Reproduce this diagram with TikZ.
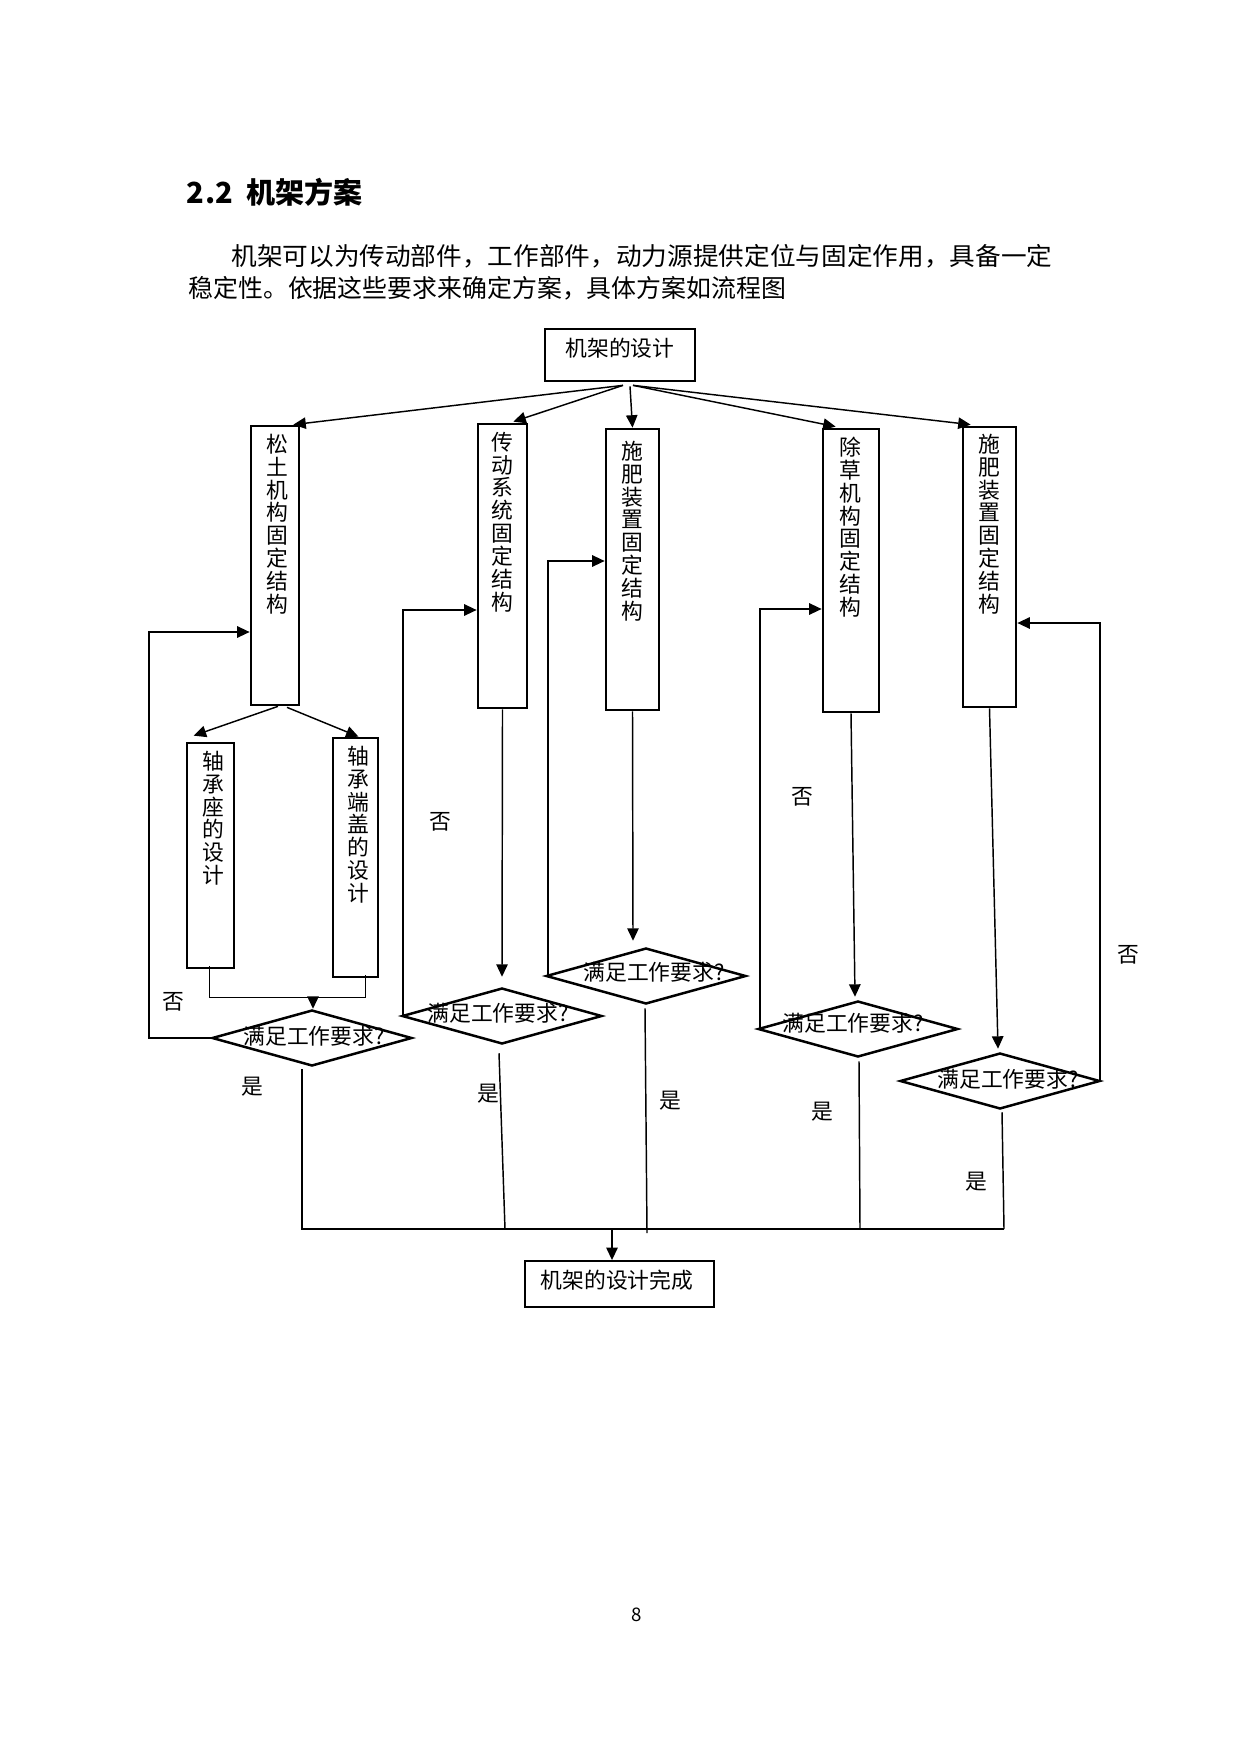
\documentclass[tikz,border=0pt]{standalone}
\usepackage{fontspec}
\setmainfont{Noto Sans CJK SC}
\usetikzlibrary{arrows.meta,shapes.geometric,calc}
\newcommand{\pxu}{0.4818pt}
\begin{document}
\begin{tikzpicture}[x=0.4818pt,y=-0.4818pt,
  boxthick/.style={draw,line width=1.3pt,inner sep=0pt,rectangle},
  endbox/.style={draw,line width=0.9pt,inner sep=0pt,rectangle},
  decide/.style={draw,line width=1.2pt,diamond,inner sep=0pt,minimum width=200*\pxu,minimum height=56*\pxu},
  vtxt/.style={inner sep=0pt,align=center,anchor=north,font=\fontsize{10.5}{11}\selectfont},
  htxt/.style={inner sep=0pt,font=\fontsize{10.5}{11}\selectfont},
  conn/.style={line width=0.7pt},
  arr/.style={line width=0.7pt,-{Triangle[length=6pt,width=5.5pt]}},
  lbl/.style={inner sep=0pt,font=\fontsize{10.5}{11}\selectfont}
]
\useasboundingbox (0,0) rectangle (1240,1754);

% heading and paragraph
\node[anchor=west,inner sep=0pt,font=\bfseries\fontsize{14}{14}\selectfont] (title) at (188,192)
  {\makebox[0.5em]{2}\makebox[0.5em]{.}\makebox[0.5em]{2}\hspace{0.5em}机架方案};
\node[anchor=west,inner sep=0pt,font=\fontsize{12}{15}\selectfont] (p1) at (231,256)
  {\scalebox{1.03}[1]{机架可以为传动部件，工作部件，动力源提供定位与固定作用，具备一定}};
\node[anchor=west,inner sep=0pt,font=\fontsize{12}{15}\selectfont] (p2) at (188,288)
  {稳定性。依据这些要求来确定方案，具体方案如流程图};

% top box
\node[boxthick,minimum width=150*\pxu,minimum height=52*\pxu] (top) at (620,355) {};
\node[htxt] (toptxt) at (620,348) {机架的设计};

% vertical boxes
\node[boxthick,minimum width=48*\pxu,minimum height=279*\pxu] (st) at (275,565.5) {};
\node[vtxt] (sttxt) at ($(st.north)+(2,9)$) {松\\土\\机\\构\\固\\定\\结\\构};
\node[boxthick,minimum width=49*\pxu,minimum height=284*\pxu] (cd) at (502.5,566) {};
\node[vtxt] (cdtxt) at ($(cd.north)+(0,9)$) {传\\动\\系\\统\\固\\定\\结\\构};
\node[boxthick,minimum width=53*\pxu,minimum height=281*\pxu] (sf1) at (632.5,569.5) {};
\node[vtxt] (sf1txt) at ($(sf1.north)+(0,13)$) {施\\肥\\装\\置\\固\\定\\结\\构};
\node[boxthick,minimum width=56*\pxu,minimum height=283*\pxu] (cc) at (851,570.5) {};
\node[vtxt] (cctxt) at ($(cc.north)+(-1,9)$) {除\\草\\机\\构\\固\\定\\结\\构};
\node[boxthick,minimum width=53*\pxu,minimum height=280*\pxu] (sf2) at (989.5,567) {};
\node[vtxt] (sf2txt) at ($(sf2.north)+(0,8)$) {施\\肥\\装\\置\\固\\定\\结\\构};
\node[boxthick,minimum width=47*\pxu,minimum height=225*\pxu] (zc) at (210.5,855.5) {};
\node[vtxt] (zctxt) at ($(zc.north)+(3,9)$) {轴\\承\\座\\的\\设\\计};
\node[boxthick,minimum width=45*\pxu,minimum height=239*\pxu] (dg) at (355.5,857.5) {};
\node[vtxt] (dgtxt) at ($(dg.north)+(3,9)$) {轴\\承\\端\\盖\\的\\设\\计};

% decisions
\node[decide] (d1) at (312,1038) {};
\node[htxt] (d1t) at (314,1036) {满足工作要求?};
\node[decide] (d2) at (502,1016) {};
\node[htxt] (d2t) at (498,1013) {满足工作要求?};
\node[decide] (d3) at (646,976) {};
\node[htxt] (d3t) at (654,972) {满足工作要求?};
\node[decide] (d4) at (858,1029) {};
\node[htxt] (d4t) at (853,1023) {满足工作要求?};
\node[decide] (d5) at (1000,1081) {};
\node[htxt] (d5t) at (1008,1079) {满足工作要求?};

% end box
\node[endbox,minimum width=189*\pxu,minimum height=46*\pxu] (fin) at (619.5,1284) {};
\node[htxt] (fintxt) at (617,1280) {机架的设计完成};

% arrows from top
\coordinate (o1) at ($(top.south)+(3,3)$);
\coordinate (o2) at ($(top.south)+(10,4)$);
\coordinate (o3) at ($(top.south)+(13,3)$);
\draw[arr] (o1) -- ($(st.north east)+(-7,0)$);
\draw[arr] (o1) -- ($(cd.north east)+(-15,-1)$);
\draw[arr] (o2) -- (sf1.north);
\draw[arr] (o3) -- ($(cc.north west)+(14,-1)$);
\draw[arr] (o3) -- ($(sf2.north west)+(9,-1)$);

% branch from 松土
\draw[arr] ($(st.south)+(3,0)$) -- ($(zc.north west)+(8,-6)$);
\draw[arr] ($(st.south)+(12,1)$) -- ($(dg.north)+(3,0)$);
\coordinate (jl) at ($(zc.south)+(-1,28)$);
\draw[conn] ($(zc.south)+(-1,-3)$) -- (jl) -| ($(dg.south)+(10,-3)$);
\coordinate (jm) at (313,997);
\draw[arr] (jm) -- ($(d1.north)+(1,0)$);

% vertical arrows to decisions
\draw[arr] (cd.south) -- ($(d2.north)+(0,-10)$);
\draw[arr] (sf1.south) -- ($(d3.north)+(-13,-6)$);
\draw[arr] (cc.south) -- ($(d4.north)+(-3,-3)$);
\draw[arr] (sf2.south) -- ($(d5.north)+(-2,-3)$);

% no loops
\coordinate (n1) at (149,632);
\draw[arr] (d1.west) -| (n1) -- (n1 -| st.west);
\coordinate (n2) at (403,610);
\draw[arr] (d2.west) -| (n2) -- (n2 -| cd.west);
\coordinate (n3) at (548,561);
\draw[arr] (d3.west) -| (n3) -- (n3 -| sf1.west);
\coordinate (n4) at (760,609);
\draw[arr] (d4.west) -| (n4) -- (n4 -| cc.west);
\coordinate (n5) at (1100,623);
\draw[arr] (d5.east) -| (n5) -- (n5 -| sf2.east);

% yes lines and bus
\coordinate (busL) at (302,1229);
\coordinate (busR) at (1004,1229);
\coordinate (y2) at (505,1229);
\coordinate (y3) at (647,1233);
\coordinate (y4) at (860,1229);
\coordinate (busM) at (612,1229);
\draw[conn] ($(d1.south)+(-10,2)$) -- (busL) -- (busR);
\draw[conn] ($(d2.south)+(-3,8)$) -- (y2);
\draw[conn] ($(d3.south)+(-1,3)$) -- (y3);
\draw[conn] ($(d4.south)+(1,3)$) -- (y4);
\draw[conn] ($(d5.south)+(2,2)$) -- (busR);
\draw[arr] (busM) -- (busM |- fin.north);

% labels
\node[lbl] (no1) at (173,1002) {否};
\node[lbl] (no2) at (440,822) {否};
\node[lbl] (no3) at (802,797) {否};
\node[lbl] (no4) at (1128,955) {否};
\node[lbl] (yes1) at (252,1087) {是};
\node[lbl] (yes2) at (488,1094) {是};
\node[lbl] (yes3) at (670,1101) {是};
\node[lbl] (yes4) at (822,1112) {是};
\node[lbl] (yes5) at (976,1182) {是};

\node[inner sep=0pt,font=\fontsize{9}{9}\selectfont] (pg) at (637,1615) {8};
\end{tikzpicture}
\end{document}
